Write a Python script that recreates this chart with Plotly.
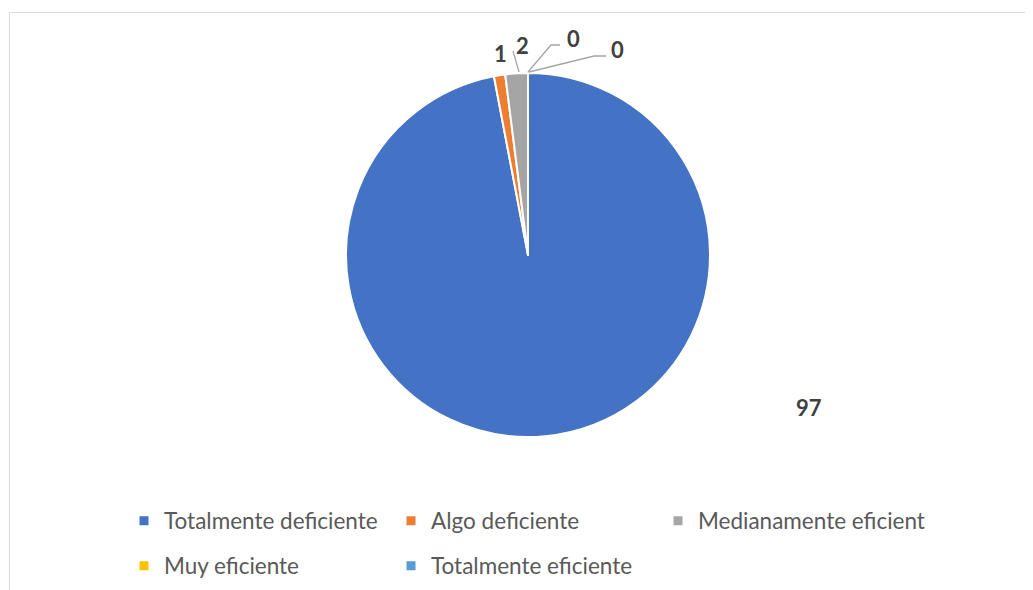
import plotly.graph_objects as go

# ---- data ----
categories = ["Totalmente deficiente", "Algo deficiente", "Medianamente eficiente",
              "Muy eficiente", "Totalmente eficiente"]
values = [97, 1, 2, 0, 0]
colors = ["#4472C4", "#ED7D31", "#A5A5A5", "#FFC000", "#5B9BD5"]

# ---- layout helpers (screen pixel positions; page body has an 8px margin) ----
W, H = 1033, 590
OFF = 8
def px(x):
    return (x - OFF) / W
def py(y):
    return 1 - (y - OFF) / H

label_pos = [(809, 407), (500, 53), (522, 46), (573, 39), (617, 50)]
leader_paths = [None, None,
                [(513, 51), (519, 72)],
                [(560, 45), (551, 45), (528, 72)],
                [(606, 56), (594, 56), (529, 72)]]

fig = go.Figure()
fig.add_trace(go.Pie(
    labels=categories, values=values, sort=False, direction="clockwise", rotation=0,
    marker=dict(colors=colors, line=dict(color="white", width=2)),
    textinfo="none", hoverinfo="label+value", showlegend=False,
    domain=dict(x=[px(346), px(710)], y=[py(437), py(73)]),
))

# legend entries (square markers), split into two rows like the original
for i, (cat, col) in enumerate(zip(categories, colors)):
    fig.add_trace(go.Scatter(
        x=[None], y=[None], mode="markers", name=cat,
        marker=dict(symbol="square", size=9, color=col),
        legend="legend" if i < 3 else "legend2",
    ))

annotations = []
for v, (lx, ly) in zip(values, label_pos):
    annotations.append(dict(
        x=px(lx), y=py(ly), xref="paper", yref="paper", text=f"<b>{v}</b>",
        showarrow=False, font=dict(family="Lato", size=22, color="#404040"),
        xanchor="center", yanchor="middle"))

shapes = [dict(type="rect", xref="paper", yref="paper",
               x0=px(9.5), x1=px(1040), y0=-0.1, y1=py(12.5),
               line=dict(color="#D9D9D9", width=1), fillcolor="rgba(0,0,0,0)", layer="below")]
for path in leader_paths:
    if path:
        d = "M " + " L ".join(f"{px(x)},{py(y)}" for x, y in path)
        shapes.append(dict(type="path", xref="paper", yref="paper", path=d,
                           line=dict(color="#A6A6A6", width=1.3)))

legend_font = dict(family="Lato", size=22.5, color="#595959")
fig.update_layout(
    width=W, height=H, margin=dict(l=0, r=0, t=0, b=0),
    paper_bgcolor="white", plot_bgcolor="white",
    xaxis=dict(visible=False), yaxis=dict(visible=False),
    annotations=annotations, shapes=shapes,
    legend=dict(orientation="h", x=px(124), y=py(521), xanchor="left", yanchor="middle",
                entrywidth=222, entrywidthmode="pixels", font=legend_font,
                bgcolor="rgba(0,0,0,0)"),
    legend2=dict(orientation="h", x=px(124), y=py(566), xanchor="left", yanchor="middle",
                 entrywidth=222, entrywidthmode="pixels", font=legend_font,
                 bgcolor="rgba(0,0,0,0)"),
)

fig.write_html("out.html")
